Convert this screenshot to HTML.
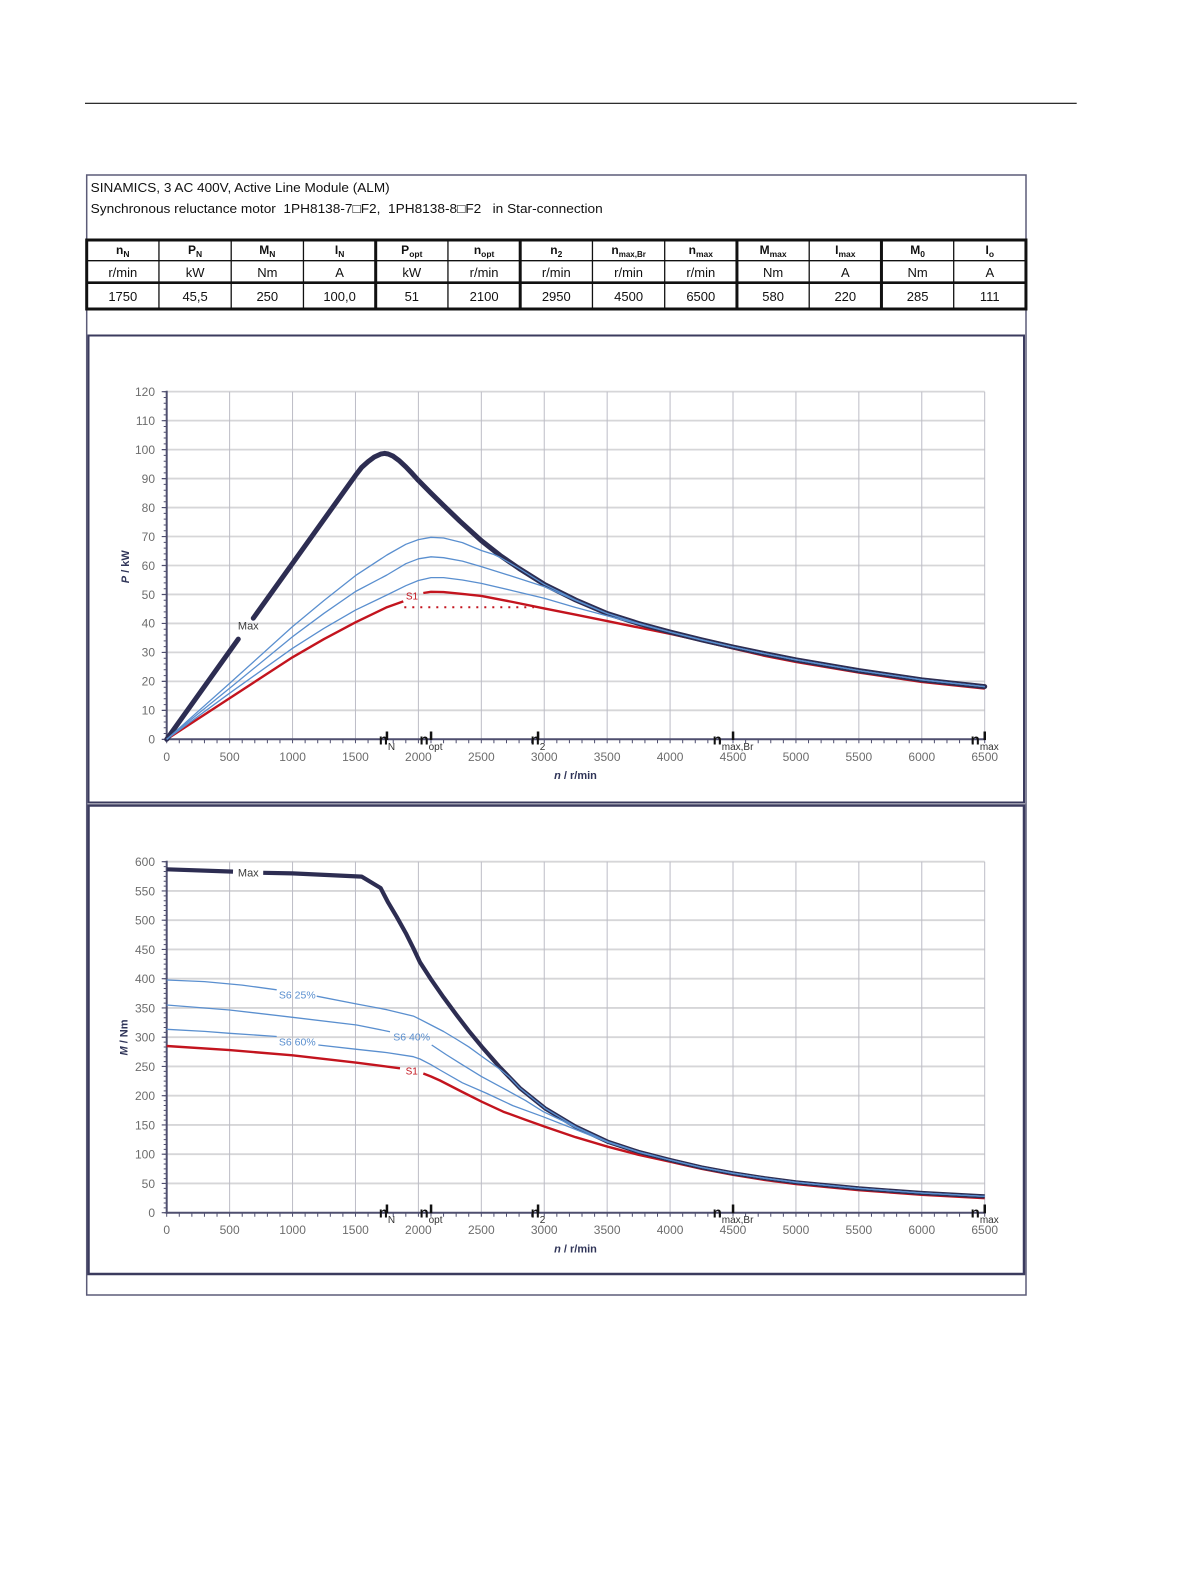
<!DOCTYPE html>
<html>
<head>
<meta charset="utf-8">
<style>
html,body{margin:0;padding:0;background:#fff;}
svg{display:block;}
text{font-family:"Liberation Sans",Arial,sans-serif;}
</style>
</head>
<body>
<svg width="1191" height="1587" viewBox="0 0 1191 1587" xmlns="http://www.w3.org/2000/svg">
<rect width="1191" height="1587" fill="#fff"/>
<!-- page rule -->
<line x1="85" y1="103.3" x2="1076.7" y2="103.3" stroke="#111" stroke-width="1.2"/>

<!-- outer frame -->
<rect x="86.7" y="175" width="939.3" height="1120" fill="none" stroke="#5c5c78" stroke-width="1.5"/>

<!-- titles -->
<text x="90.7" y="192" font-size="13" fill="#111" textLength="299" lengthAdjust="spacingAndGlyphs">SINAMICS, 3 AC 400V, Active Line Module (ALM)</text>
<text x="90.7" y="213" font-size="13" fill="#111" xml:space="preserve" textLength="512" lengthAdjust="spacingAndGlyphs">Synchronous reluctance motor  1PH8138-7□F2,  1PH8138-8□F2   in Star-connection</text>

<!-- table -->
<g stroke="#111" fill="none">
<line x1="86.7" y1="240" x2="1026" y2="240" stroke-width="3"/>
<line x1="86.7" y1="260.7" x2="1026" y2="260.7" stroke-width="1.3"/>
<line x1="86.7" y1="282.7" x2="1026" y2="282.7" stroke-width="2.6"/>
<line x1="86.7" y1="309" x2="1026" y2="309" stroke-width="3"/>
<line x1="86.7" y1="238.5" x2="86.7" y2="310.5" stroke-width="3"/>
<line x1="158.95" y1="240" x2="158.95" y2="309" stroke-width="1.3"/>
<line x1="231.2" y1="240" x2="231.2" y2="309" stroke-width="1.3"/>
<line x1="303.45" y1="240" x2="303.45" y2="309" stroke-width="1.3"/>
<line x1="375.7" y1="240" x2="375.7" y2="309" stroke-width="3"/>
<line x1="447.95" y1="240" x2="447.95" y2="309" stroke-width="1.3"/>
<line x1="520.2" y1="240" x2="520.2" y2="309" stroke-width="3"/>
<line x1="592.45" y1="240" x2="592.45" y2="309" stroke-width="1.3"/>
<line x1="664.7" y1="240" x2="664.7" y2="309" stroke-width="1.3"/>
<line x1="736.95" y1="240" x2="736.95" y2="309" stroke-width="3"/>
<line x1="809.2" y1="240" x2="809.2" y2="309" stroke-width="1.3"/>
<line x1="881.45" y1="240" x2="881.45" y2="309" stroke-width="3"/>
<line x1="953.7" y1="240" x2="953.7" y2="309" stroke-width="1.3"/>
<line x1="1025.95" y1="238.5" x2="1025.95" y2="310.5" stroke-width="3"/>
</g>
<g font-size="12" font-weight="bold" fill="#111" text-anchor="middle">
<text x="122.8" y="254">n<tspan font-size="8.5" dy="3">N</tspan></text>
<text x="195.1" y="254">P<tspan font-size="8.5" dy="3">N</tspan></text>
<text x="267.3" y="254">M<tspan font-size="8.5" dy="3">N</tspan></text>
<text x="339.6" y="254">I<tspan font-size="8.5" dy="3">N</tspan></text>
<text x="411.8" y="254">P<tspan font-size="8.5" dy="3">opt</tspan></text>
<text x="484.1" y="254">n<tspan font-size="8.5" dy="3">opt</tspan></text>
<text x="556.3" y="254">n<tspan font-size="8.5" dy="3">2</tspan></text>
<text x="628.6" y="254">n<tspan font-size="8" dy="3">max,Br</tspan></text>
<text x="700.8" y="254">n<tspan font-size="8.5" dy="3">max</tspan></text>
<text x="773.1" y="254">M<tspan font-size="8.5" dy="3">max</tspan></text>
<text x="845.3" y="254">I<tspan font-size="8.5" dy="3">max</tspan></text>
<text x="917.6" y="254">M<tspan font-size="8.5" dy="3">0</tspan></text>
<text x="989.8" y="254">I<tspan font-size="8.5" dy="3">o</tspan></text>
</g>
<g font-size="13" fill="#111" text-anchor="middle">
<text x="122.8" y="277">r/min</text><text x="195.1" y="277">kW</text><text x="267.3" y="277">Nm</text><text x="339.6" y="277">A</text>
<text x="411.8" y="277">kW</text><text x="484.1" y="277">r/min</text><text x="556.3" y="277">r/min</text><text x="628.6" y="277">r/min</text>
<text x="700.8" y="277">r/min</text><text x="773.1" y="277">Nm</text><text x="845.3" y="277">A</text><text x="917.6" y="277">Nm</text><text x="989.8" y="277">A</text>
<text x="122.8" y="301">1750</text><text x="195.1" y="301">45,5</text><text x="267.3" y="301">250</text><text x="339.6" y="301">100,0</text>
<text x="411.8" y="301">51</text><text x="484.1" y="301">2100</text><text x="556.3" y="301">2950</text><text x="628.6" y="301">4500</text>
<text x="700.8" y="301">6500</text><text x="773.1" y="301">580</text><text x="845.3" y="301">220</text><text x="917.6" y="301">285</text><text x="989.8" y="301">111</text>
</g>

<!-- chart frames -->
<rect x="88.5" y="335.5" width="935.5" height="467" fill="none" stroke="#3b3b5e" stroke-width="2"/>
<rect x="88.5" y="805.5" width="935.5" height="468.5" fill="none" stroke="#3b3b5e" stroke-width="2.5"/>

<!-- ================= TOP CHART (P) ================= -->
<g stroke="#d6d6d8" stroke-width="1.8">
<line x1="166.7" y1="710.33" x2="984.7" y2="710.33"/>
<line x1="166.7" y1="681.36" x2="984.7" y2="681.36"/>
<line x1="166.7" y1="652.39" x2="984.7" y2="652.39"/>
<line x1="166.7" y1="623.42" x2="984.7" y2="623.42"/>
<line x1="166.7" y1="594.45" x2="984.7" y2="594.45"/>
<line x1="166.7" y1="565.48" x2="984.7" y2="565.48"/>
<line x1="166.7" y1="536.51" x2="984.7" y2="536.51"/>
<line x1="166.7" y1="507.54" x2="984.7" y2="507.54"/>
<line x1="166.7" y1="478.57" x2="984.7" y2="478.57"/>
<line x1="166.7" y1="449.6" x2="984.7" y2="449.6"/>
<line x1="166.7" y1="420.63" x2="984.7" y2="420.63"/>
<line x1="166.7" y1="391.66" x2="984.7" y2="391.66"/>
</g>
<g stroke="#bcbcc6" stroke-width="1">
<line x1="229.62" y1="391.7" x2="229.62" y2="739.3"/>
<line x1="292.55" y1="391.7" x2="292.55" y2="739.3"/>
<line x1="355.47" y1="391.7" x2="355.47" y2="739.3"/>
<line x1="418.39" y1="391.7" x2="418.39" y2="739.3"/>
<line x1="481.32" y1="391.7" x2="481.32" y2="739.3"/>
<line x1="544.24" y1="391.7" x2="544.24" y2="739.3"/>
<line x1="607.16" y1="391.7" x2="607.16" y2="739.3"/>
<line x1="670.08" y1="391.7" x2="670.08" y2="739.3"/>
<line x1="733.01" y1="391.7" x2="733.01" y2="739.3"/>
<line x1="795.93" y1="391.7" x2="795.93" y2="739.3"/>
<line x1="858.85" y1="391.7" x2="858.85" y2="739.3"/>
<line x1="921.78" y1="391.7" x2="921.78" y2="739.3"/>
<line x1="984.7" y1="391.7" x2="984.7" y2="739.3"/>
</g>
<!-- axes -->
<g stroke="#4f4f6f">
<line x1="166.7" y1="390.7" x2="166.7" y2="740.3" stroke-width="2"/>
<line x1="165.7" y1="739.3" x2="985.7" y2="739.3" stroke-width="2"/>
<line x1="165.2" y1="391.2" x2="165.2" y2="740" stroke-width="3" stroke-dasharray="1 4.794"/>
<line x1="164.2" y1="391.1" x2="164.2" y2="740" stroke-width="5" stroke-dasharray="1.2 27.77"/>
<line x1="166.2" y1="741.3" x2="986" y2="741.3" stroke-width="4" stroke-dasharray="1 11.585"/>
</g>
<!-- y labels -->
<g font-size="12" fill="#6d6d6d" text-anchor="end">
<text x="155" y="743.6">0</text><text x="155" y="714.6">10</text><text x="155" y="685.7">20</text>
<text x="155" y="656.7">30</text><text x="155" y="627.7">40</text><text x="155" y="598.8">50</text>
<text x="155" y="569.8">60</text><text x="155" y="540.8">70</text><text x="155" y="511.8">80</text>
<text x="155" y="482.9">90</text><text x="155" y="453.9">100</text><text x="155" y="424.9">110</text>
<text x="155" y="396">120</text>
</g>
<g font-size="12" fill="#6d6d6d" text-anchor="middle">
<text x="166.7" y="760.8">0</text><text x="229.62" y="760.8">500</text><text x="292.55" y="760.8">1000</text>
<text x="355.47" y="760.8">1500</text><text x="418.39" y="760.8">2000</text><text x="481.32" y="760.8">2500</text>
<text x="544.24" y="760.8">3000</text><text x="607.16" y="760.8">3500</text><text x="670.08" y="760.8">4000</text>
<text x="733.01" y="760.8">4500</text><text x="795.93" y="760.8">5000</text><text x="858.85" y="760.8">5500</text>
<text x="921.78" y="760.8">6000</text><text x="984.7" y="760.8">6500</text>
</g>
<text transform="translate(129,566.7) rotate(-90)" font-size="11" font-weight="bold" fill="#2f3458" text-anchor="middle"><tspan font-style="italic">P</tspan> / kW</text>
<text x="575.5" y="779" font-size="11" font-weight="bold" fill="#2f3458" text-anchor="middle"><tspan font-style="italic">n</tspan> / r/min</text>

<!-- curves P -->
<g fill="none" stroke-linejoin="round">
<polyline stroke="#c3141e" stroke-width="2.4" points="166.7,739.3 229.6,698.2 292.5,657.3 324.0,639.1 355.5,622.3 386.9,607.2 403.3,601.4"/>
<polyline stroke="#c3141e" stroke-width="2.4" points="423.3,593.0 431.0,591.8 443.6,592.1 462.4,593.9 481.3,595.9 512.8,602.0 544.2,608.4 575.7,614.7 607.2,621.1 638.6,627.5 670.1,633.8 701.5,640.8 733.0,648.5 764.5,655.8 795.9,661.9 858.9,672.6 921.8,681.9 984.7,688.6"/>
<line x1="404.3" y1="607.3" x2="534" y2="607.3" stroke="#c3141e" stroke-width="2" stroke-dasharray="2 6"/>
<polyline stroke="#2d2d52" stroke-width="5" stroke-linecap="round" points="166.7,739.3 238.3,639.1"/>
<polyline stroke="#2d2d52" stroke-width="5" stroke-linecap="round" points="253.3,618.2 292.5,563.4 355.5,475.4 361.8,467.2 368.1,461.6 374.3,457.0 380.6,454.1 384.4,453.4 388.2,454.0 393.2,456.2 399.5,460.9 405.8,466.8 412.1,473.4 418.4,480.4 431.0,493.1 443.6,505.5 459.9,521.2 481.3,540.6 500.2,555.5 519.1,568.5 544.2,584.3 575.7,600.0 607.2,613.5 638.6,623.5 670.1,632.0 701.5,639.8 733.0,647.0 764.5,653.6 795.9,659.8 858.9,670.6 921.8,679.8 984.7,686.6"/>
<g stroke="#5a8fcf" stroke-width="1.3">
<polyline points="166.7,739.3 229.6,683.4 292.5,626.6 324.0,600.5 355.5,575.6 386.9,555.0 405.8,544.3 418.4,539.6 431.0,537.3 443.6,538.0 462.4,542.6 481.3,550.5 493.9,554.5 500.2,557.5 519.1,568.5 544.2,584.3 575.7,600.0 607.2,613.5 638.6,623.5 670.1,632.0 701.5,639.8 733.0,647.0 764.5,653.6 795.9,659.8 858.9,670.6 921.8,679.8 984.7,686.6"/>
<polyline points="166.7,739.3 229.6,688.3 292.5,636.7 324.0,613.3 355.5,591.5 386.9,575.0 405.8,563.7 418.4,558.8 431.0,556.8 443.6,557.7 462.4,561.1 481.3,566.6 512.8,576.5 544.2,586.6 575.7,600.5 607.2,613.5 638.6,623.5 670.1,632.0 701.5,639.8 733.0,647.0 764.5,653.6 795.9,659.8 858.9,670.6 921.8,679.8 984.7,686.6"/>
<polyline points="166.7,739.3 229.6,693.2 292.5,648.3 324.0,628.3 355.5,610.1 386.9,595.0 405.8,585.7 418.4,580.5 431.0,577.6 443.6,577.6 462.4,580.0 481.3,583.4 512.8,590.7 544.2,598.2 575.7,607.5 607.2,615.9 638.6,624.0 670.1,632.1 701.5,640.0 733.0,647.0 764.5,653.6 795.9,659.8 858.9,670.6 921.8,679.8 984.7,686.6"/>
</g>
</g>
<text x="248.3" y="629.5" font-size="11" fill="#3a3a3a" text-anchor="middle">Max</text>
<text x="412" y="599.5" font-size="10" fill="#c3141e" text-anchor="middle">S1</text>

<!-- markers top -->
<g fill="#111">
<rect x="385.7" y="731.5" width="2.5" height="8.5"/>
<rect x="429.8" y="731.5" width="2.5" height="8.5"/>
<rect x="536.8" y="731.5" width="2.5" height="8.5"/>
<rect x="731.8" y="731.5" width="2.5" height="8.5"/>
<rect x="983.5" y="731.5" width="2.5" height="8.5"/>
</g>
<g text-anchor="middle" fill="#111">
<text x="386.9" y="744.3"><tspan font-size="15" font-weight="bold">n</tspan><tspan font-size="10" fill="#333" dy="5.5">N</tspan></text>
<text x="431" y="744.3"><tspan font-size="15" font-weight="bold">n</tspan><tspan font-size="10" fill="#333" dy="5.5">opt</tspan></text>
<text x="538" y="744.3"><tspan font-size="15" font-weight="bold">n</tspan><tspan font-size="10" fill="#333" dy="5.5">2</tspan></text>
<text x="733" y="744.3"><tspan font-size="15" font-weight="bold">n</tspan><tspan font-size="10" fill="#333" dy="5.5">max,Br</tspan></text>
<text x="984.7" y="744.3"><tspan font-size="15" font-weight="bold">n</tspan><tspan font-size="10" fill="#333" dy="5.5">max</tspan></text>
</g>

<!-- ================= BOTTOM CHART (M) ================= -->
<g stroke="#d6d6d8" stroke-width="1.8">
<line x1="166.7" y1="1183.45" x2="984.7" y2="1183.45"/>
<line x1="166.7" y1="1154.2" x2="984.7" y2="1154.2"/>
<line x1="166.7" y1="1124.95" x2="984.7" y2="1124.95"/>
<line x1="166.7" y1="1095.7" x2="984.7" y2="1095.7"/>
<line x1="166.7" y1="1066.45" x2="984.7" y2="1066.45"/>
<line x1="166.7" y1="1037.2" x2="984.7" y2="1037.2"/>
<line x1="166.7" y1="1007.95" x2="984.7" y2="1007.95"/>
<line x1="166.7" y1="978.7" x2="984.7" y2="978.7"/>
<line x1="166.7" y1="949.45" x2="984.7" y2="949.45"/>
<line x1="166.7" y1="920.2" x2="984.7" y2="920.2"/>
<line x1="166.7" y1="890.95" x2="984.7" y2="890.95"/>
<line x1="166.7" y1="861.7" x2="984.7" y2="861.7"/>
</g>
<g stroke="#bcbcc6" stroke-width="1">
<line x1="229.62" y1="861.7" x2="229.62" y2="1212.7"/>
<line x1="292.55" y1="861.7" x2="292.55" y2="1212.7"/>
<line x1="355.47" y1="861.7" x2="355.47" y2="1212.7"/>
<line x1="418.39" y1="861.7" x2="418.39" y2="1212.7"/>
<line x1="481.32" y1="861.7" x2="481.32" y2="1212.7"/>
<line x1="544.24" y1="861.7" x2="544.24" y2="1212.7"/>
<line x1="607.16" y1="861.7" x2="607.16" y2="1212.7"/>
<line x1="670.08" y1="861.7" x2="670.08" y2="1212.7"/>
<line x1="733.01" y1="861.7" x2="733.01" y2="1212.7"/>
<line x1="795.93" y1="861.7" x2="795.93" y2="1212.7"/>
<line x1="858.85" y1="861.7" x2="858.85" y2="1212.7"/>
<line x1="921.78" y1="861.7" x2="921.78" y2="1212.7"/>
<line x1="984.7" y1="861.7" x2="984.7" y2="1212.7"/>
</g>
<g stroke="#4f4f6f">
<line x1="166.7" y1="860.7" x2="166.7" y2="1213.7" stroke-width="2"/>
<line x1="165.7" y1="1212.7" x2="985.7" y2="1212.7" stroke-width="2"/>
<line x1="165.2" y1="861.2" x2="165.2" y2="1213.3" stroke-width="3" stroke-dasharray="1 3.875"/>
<line x1="164.2" y1="861.1" x2="164.2" y2="1213.3" stroke-width="5" stroke-dasharray="1.2 28.05"/>
<line x1="166.2" y1="1214.7" x2="986" y2="1214.7" stroke-width="4" stroke-dasharray="1 11.585"/>
</g>
<g font-size="12" fill="#6d6d6d" text-anchor="end">
<text x="155" y="1217">0</text><text x="155" y="1187.8">50</text><text x="155" y="1158.5">100</text>
<text x="155" y="1129.3">150</text><text x="155" y="1100">200</text><text x="155" y="1070.8">250</text>
<text x="155" y="1041.5">300</text><text x="155" y="1012.3">350</text><text x="155" y="983">400</text>
<text x="155" y="953.8">450</text><text x="155" y="924.5">500</text><text x="155" y="895.3">550</text>
<text x="155" y="866">600</text>
</g>
<g font-size="12" fill="#6d6d6d" text-anchor="middle">
<text x="166.7" y="1234.2">0</text><text x="229.62" y="1234.2">500</text><text x="292.55" y="1234.2">1000</text>
<text x="355.47" y="1234.2">1500</text><text x="418.39" y="1234.2">2000</text><text x="481.32" y="1234.2">2500</text>
<text x="544.24" y="1234.2">3000</text><text x="607.16" y="1234.2">3500</text><text x="670.08" y="1234.2">4000</text>
<text x="733.01" y="1234.2">4500</text><text x="795.93" y="1234.2">5000</text><text x="858.85" y="1234.2">5500</text>
<text x="921.78" y="1234.2">6000</text><text x="984.7" y="1234.2">6500</text>
</g>
<text transform="translate(127.5,1037.5) rotate(-90)" font-size="11" font-weight="bold" fill="#2f3458" text-anchor="middle"><tspan font-style="italic">M</tspan> / Nm</text>
<text x="575.5" y="1252.5" font-size="11" font-weight="bold" fill="#2f3458" text-anchor="middle"><tspan font-style="italic">n</tspan> / r/min</text>

<!-- curves M -->
<g fill="none" stroke-linejoin="round">
<polyline stroke="#c3141e" stroke-width="2.4" points="166.7,1046.0 229.6,1050.1 292.5,1055.3 356.7,1062.7 400.0,1068.3"/>
<polyline stroke="#c3141e" stroke-width="2.4" points="423.3,1073.5 431.0,1076.5 440.0,1080.5 462.4,1092.0 481.7,1101.7 503.3,1111.7 525.4,1119.7 545.0,1126.7 575.7,1137.2 607.7,1146.7 638.6,1154.8 670.0,1161.7 701.5,1168.8 733.0,1174.8 764.5,1179.9 795.9,1184.1 858.9,1190.2 921.8,1194.8 984.7,1198.2"/>
<polyline stroke="#2d2d52" stroke-width="4.2" points="166.7,869.3 233.0,871.6"/>
<polyline stroke="#2d2d52" stroke-width="4.2" points="263.2,872.8 292.5,873.4 361.6,876.6 380.6,888.0 388.2,902.6 396.6,916.7 405.8,933.1 413.4,948.3 420.0,962.3 431.0,979.3 443.6,997.4 456.1,1014.4 468.7,1030.8 481.7,1046.6 500.1,1067.6 519.9,1088.1 545.0,1108.3 575.7,1126.7 607.7,1141.7 638.6,1151.9 670.1,1160.0 701.5,1167.4 733.0,1173.3 764.5,1178.2 795.9,1182.3 858.9,1188.4 921.8,1193.0 984.7,1196.4"/>
<g stroke="#5a8fcf" stroke-width="1.3">
<polyline points="166.7,980.0 204.5,981.6 242.2,985.1 276.7,989.8"/>
<polyline points="316.7,996.2 356.7,1004.0 386.9,1009.7 413.4,1016.1 420.0,1019.3 431.0,1025.0 443.6,1031.5 456.1,1039.0 468.7,1046.8 481.3,1056.0 493.9,1065.0 500.2,1069.5 509.0,1076.8 519.9,1088.1 545.0,1108.3 575.7,1126.7 607.7,1141.7 638.6,1151.9 670.1,1160.0 701.5,1167.4 733.0,1173.3 764.5,1178.2 795.9,1182.3 858.9,1188.4 921.8,1193.0 984.7,1196.4"/>
<polyline points="166.7,1005.0 229.6,1010.0 292.5,1017.3 356.7,1025.0 390.0,1031.7"/>
<polyline points="431.7,1045.0 446.0,1054.5 460.0,1063.3 481.3,1076.4 503.3,1088.3 525.4,1100.4 543.3,1111.7 563.1,1121.0 575.7,1127.5 607.7,1141.7 638.6,1151.9 670.1,1160.0 701.5,1167.4 733.0,1173.3 764.5,1178.2 795.9,1182.3 858.9,1188.4 921.8,1193.0 984.7,1196.4"/>
<polyline points="166.7,1029.3 204.5,1031.4 229.6,1033.3 276.7,1036.5"/>
<polyline points="318.3,1045.0 356.7,1049.3 386.9,1052.6 413.4,1056.7 420.0,1059.0 431.0,1064.7 440.0,1070.0 462.4,1082.8 486.7,1093.4 512.8,1105.6 543.3,1116.8 575.7,1129.5 607.7,1142.3 638.6,1152.2 670.1,1160.0 701.5,1167.4 733.0,1173.3 764.5,1178.2 795.9,1182.3 858.9,1188.4 921.8,1193.0 984.7,1196.4"/>
</g>
</g>
<text x="248.3" y="876.5" font-size="11" fill="#3a3a3a" text-anchor="middle">Max</text>
<g font-size="10.5" fill="#5a8fcf" text-anchor="middle">
<text x="297.3" y="998.6">S6 25%</text>
<text x="297.3" y="1045.3">S6 60%</text>
<text x="411.7" y="1040.3">S6 40%</text>
</g>
<text x="411.7" y="1074.3" font-size="10" fill="#c3141e" text-anchor="middle">S1</text>

<!-- markers bottom -->
<g fill="#111">
<rect x="385.7" y="1204.5" width="2.5" height="8.7"/>
<rect x="429.8" y="1204.5" width="2.5" height="8.7"/>
<rect x="536.8" y="1204.5" width="2.5" height="8.7"/>
<rect x="731.8" y="1204.5" width="2.5" height="8.7"/>
<rect x="983.5" y="1204.5" width="2.5" height="8.7"/>
</g>
<g text-anchor="middle" fill="#111">
<text x="386.9" y="1217.7"><tspan font-size="15" font-weight="bold">n</tspan><tspan font-size="10" fill="#333" dy="5.5">N</tspan></text>
<text x="431" y="1217.7"><tspan font-size="15" font-weight="bold">n</tspan><tspan font-size="10" fill="#333" dy="5.5">opt</tspan></text>
<text x="538" y="1217.7"><tspan font-size="15" font-weight="bold">n</tspan><tspan font-size="10" fill="#333" dy="5.5">2</tspan></text>
<text x="733" y="1217.7"><tspan font-size="15" font-weight="bold">n</tspan><tspan font-size="10" fill="#333" dy="5.5">max,Br</tspan></text>
<text x="984.7" y="1217.7"><tspan font-size="15" font-weight="bold">n</tspan><tspan font-size="10" fill="#333" dy="5.5">max</tspan></text>
</g>
</svg>
</body>
</html>
